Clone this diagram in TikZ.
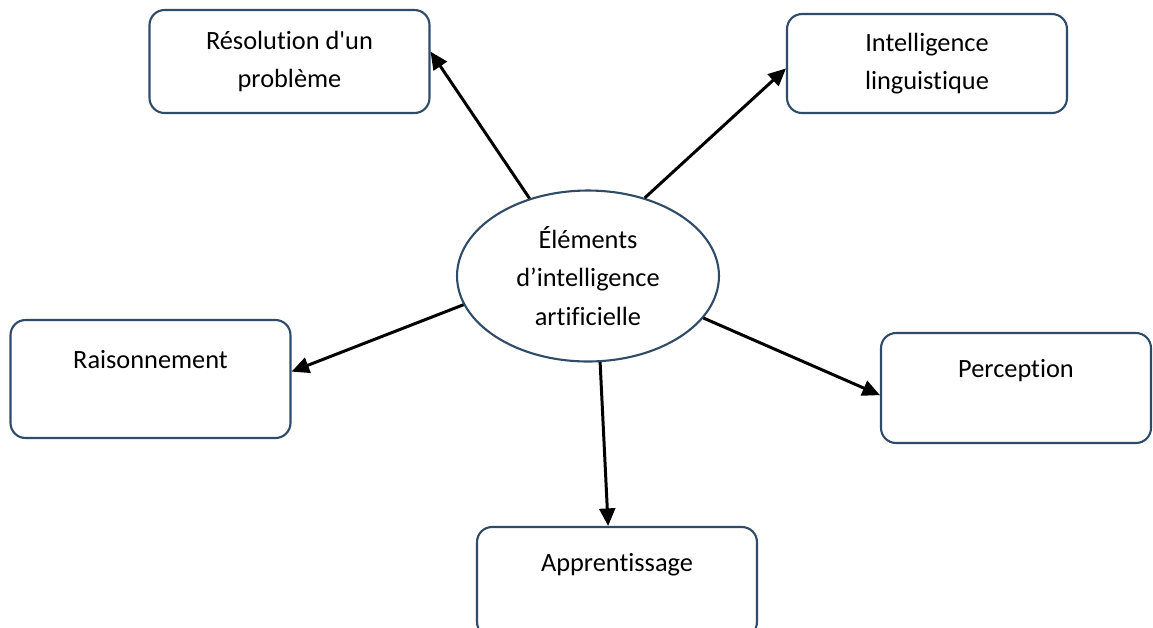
\documentclass[tikz,border=0pt]{standalone}
\usepackage{fontspec}
\setmainfont[Ligatures=NoCommon]{Carlito}
\usetikzlibrary{arrows.meta,shapes.geometric}
\definecolor{bordbleu}{RGB}{47,75,104}
\tikzset{
  boite/.style={draw=bordbleu, line width=1.2pt, rounded corners=0.3cm,
    align=center, minimum width=5.6cm, inner sep=2pt},
  fleche/.style={line width=1.7pt, -{Triangle[length=10pt,width=9pt]}}
}
\begin{document}
\begin{tikzpicture}[x=0.02cm, y=-0.02cm]
\fontsize{15}{22}\selectfont
\useasboundingbox (0,0) rectangle (1153,627);

% centre
\node[ellipse, draw=bordbleu, line width=1.2pt, align=center,
  minimum width=5.24cm, minimum height=3.42cm, inner sep=0pt] (elem) at (588,276)
  {Éléments\\d’intelligence\\artificielle};

% boites
\node[boite, minimum height=2.06cm] (resol) at (289.5,61.5)
  {Résolution d\textquotesingle un\\problème};
\node[boite, minimum height=1.98cm] (ling) at (927,63.5)
  {Intelligence\\linguistique};
\node[boite, minimum height=2.36cm] (raison) at (150.5,379)
  {Raisonnement\\~};
\node[boite, minimum height=2.2cm] (apprent) at (617,582)
  {Apprentissage\\~};
\node[boite, minimum height=2.2cm, minimum width=5.4cm] (percep) at (1016,388)
  {Perception\\~};

% fleches
\draw[fleche] (elem.127) -- (resol.4);
\draw[fleche] (elem.54) -- (ling.182);
\draw[fleche] (elem.193) -- (raison.3);
\draw[fleche] (elem.278) -- (apprent.99);
\draw[fleche] (elem.340) -- (percep.183);
\end{tikzpicture}
\end{document}
